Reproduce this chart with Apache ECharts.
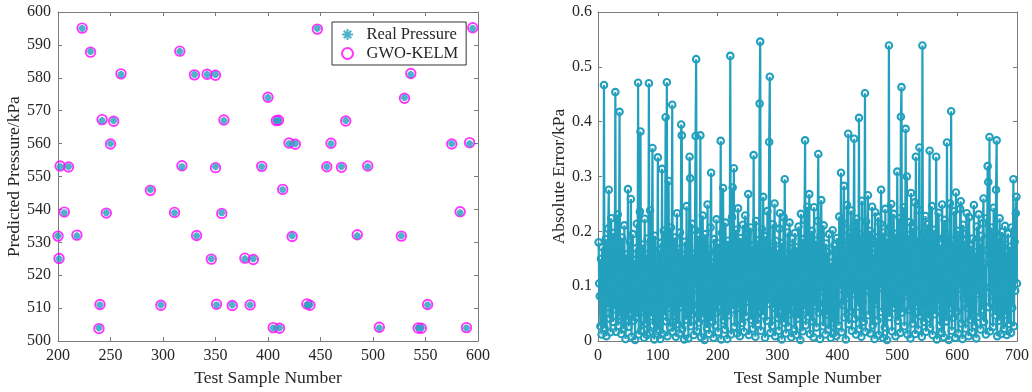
<!DOCTYPE html>
<html>
<head>
<meta charset="utf-8">
<script src="https://cdn.jsdelivr.net/npm/echarts@6/dist/echarts.min.js"></script>
<style>
  html, body { margin: 0; padding: 0; background: #fff; }
  #chart { width: 1032px; height: 392px; }
</style>
</head>
<body>
<div id="chart"></div>
<script>
// left panel: test samples 200-600, real vs predicted pressure (kPa)
const sampleNo = [202, 210, 223, 231, 242, 250, 253, 260, 288, 316, 318, 330, 342, 350, 350, 358, 394,
  447, 595, 536, 530, 400, 408, 410, 474, 420, 426, 460, 575, 592, 456, 470, 495, 414,
  206, 246, 311, 356, 583,
  200, 218, 332, 423, 485, 527,
  201, 346, 378, 386,
  240, 298, 351, 366, 383, 437, 440, 552,
  239, 405, 411, 506, 543, 546, 589];
const realPressure = [553, 553, 595, 588, 567, 560, 567, 581, 546, 588, 553, 581, 581, 581, 553, 567, 553,
  595, 595, 581, 574, 574, 567, 567, 567, 560, 560, 560, 560, 560, 553, 553, 553, 546,
  539, 539, 539, 539, 539,
  532, 532, 532, 532, 532, 532,
  525, 525, 525, 525,
  511, 511, 511, 511, 511, 511, 511, 511,
  504, 504, 504, 504, 504, 504, 504];
const predPressure = [553.2, 552.9, 595.1, 587.8, 567.3, 559.9, 566.8, 581.2, 545.8, 588.1, 553.3, 580.9, 581.1, 580.8, 552.7, 567.2, 553.1,
  594.8, 595.2, 581.3, 573.8, 574.1, 567.0, 567.1, 566.9, 560.2, 559.8, 560.1, 559.9, 560.3, 553.0, 552.8, 553.2, 546.1,
  539.2, 538.9, 539.1, 538.8, 539.3,
  531.9, 532.2, 532.1, 531.8, 532.3, 531.9,
  525.1, 524.9, 525.2, 524.8,
  511.1, 510.9, 511.2, 510.8, 511.0, 511.3, 510.9, 511.1,
  503.8, 504.1, 503.9, 504.2, 504.0, 503.9, 504.1];

// right panel: absolute error per test sample (kPa), samples 1..700
const absError = [
  0.180,0.105,0.082,0.027,0.150,0.012,0.171,0.095,0.031,0.467,0.024,0.118,0.186,0.009,0.143,0.062,0.205,0.276,0.041,0.132,0.016,0.224,0.088,0.153,0.035,
  0.197,0.058,0.121,0.454,0.017,0.164,0.073,0.231,0.028,0.137,0.418,0.046,0.102,0.013,0.189,0.067,0.145,0.022,0.211,0.079,0.004,0.158,0.097,0.039,0.277,
  0.026,0.133,0.181,0.051,0.259,0.008,0.116,0.195,0.037,0.148,0.071,0.002,0.169,0.093,0.214,0.044,0.471,0.012,0.127,0.236,0.382,0.019,0.085,0.176,0.054,
  0.141,0.006,0.223,0.096,0.032,0.158,0.011,0.187,0.069,0.470,0.015,0.238,0.107,0.045,0.174,0.352,0.029,0.129,0.003,0.192,0.076,0.149,0.018,0.104,0.335,
  0.021,0.166,0.088,0.004,0.179,0.052,0.314,0.013,0.135,0.201,0.047,0.122,0.408,0.036,0.472,0.009,0.184,0.292,0.061,0.153,0.025,0.207,0.094,0.431,0.017,
  0.123,0.046,0.189,0.071,0.008,0.145,0.233,0.031,0.112,0.168,0.014,0.198,0.062,0.395,0.375,0.022,0.157,0.096,0.003,0.181,0.118,0.039,0.246,0.074,0.136,
  0.005,0.171,0.336,0.297,0.027,0.126,0.214,0.049,0.159,0.011,0.094,0.203,0.374,0.514,0.018,0.138,0.066,0.192,0.034,0.111,0.375,0.007,0.176,0.081,0.229,
  0.043,0.152,0.002,0.195,0.087,0.132,0.024,0.249,0.058,0.167,0.013,0.118,0.207,0.307,0.036,0.143,0.075,0.006,0.186,0.101,0.029,0.161,0.222,0.052,0.128,
  0.016,0.178,0.064,0.139,0.365,0.003,0.197,0.092,0.279,0.038,0.155,0.021,0.216,0.071,0.124,0.004,0.183,0.047,0.166,0.109,0.520,0.012,0.147,0.226,0.280,
  0.058,0.315,0.026,0.171,0.089,0.203,0.014,0.136,0.242,0.061,0.119,0.009,0.188,0.077,0.154,0.033,0.212,0.098,0.017,0.163,0.229,0.045,0.131,0.072,0.196,
  0.268,0.011,0.149,0.085,0.207,0.039,0.174,0.106,0.023,0.339,0.064,0.141,0.008,0.219,0.093,0.162,0.031,0.184,0.054,0.433,0.546,0.019,0.127,0.204,0.047,
  0.263,0.082,0.155,0.006,0.191,0.112,0.037,0.237,0.068,0.145,0.363,0.482,0.015,0.172,0.099,0.028,0.213,0.061,0.138,0.251,0.009,0.183,0.074,0.121,0.042,
  0.167,0.019,0.205,0.233,0.056,0.142,0.003,0.179,0.087,0.226,0.034,0.295,0.105,0.014,0.158,0.071,0.198,0.026,0.133,0.216,0.049,0.169,0.007,0.114,0.187,
  0.063,0.148,0.022,0.197,0.089,0.011,0.171,0.124,0.041,0.209,0.078,0.154,0.002,0.232,0.096,0.137,0.018,0.186,0.058,0.221,0.366,0.029,0.163,0.108,0.245,
  0.045,0.176,0.268,0.013,0.139,0.081,0.201,0.036,0.157,0.007,0.244,0.117,0.064,0.183,0.025,0.128,0.219,0.341,0.052,0.166,0.004,0.193,0.257,0.091,0.146,
  0.027,0.211,0.069,0.135,0.012,0.178,0.103,0.048,0.162,0.021,0.195,0.077,0.143,0.006,0.118,0.034,0.202,0.087,0.015,0.174,0.059,0.126,0.009,0.188,0.072,
  0.151,0.028,0.227,0.095,0.139,0.307,0.016,0.182,0.066,0.214,0.283,0.043,0.164,0.003,0.129,0.248,0.079,0.378,0.031,0.197,0.112,0.055,0.238,0.019,0.171,
  0.086,0.209,0.369,0.041,0.156,0.012,0.223,0.102,0.175,0.063,0.407,0.022,0.194,0.133,0.008,0.256,0.071,0.184,0.035,0.149,0.452,0.017,0.218,0.093,0.165,
  0.266,0.047,0.138,0.201,0.014,0.177,0.084,0.245,0.029,0.159,0.107,0.004,0.235,0.068,0.189,0.121,0.038,0.226,0.011,0.153,0.097,0.214,0.276,0.053,0.172,
  0.006,0.198,0.134,0.025,0.241,0.079,0.163,0.002,0.187,0.114,0.539,0.044,0.208,0.142,0.250,0.018,0.176,0.089,0.232,0.061,0.151,0.009,0.196,0.125,0.309,
  0.037,0.182,0.073,0.224,0.015,0.409,0.463,0.052,0.168,0.104,0.244,0.027,0.139,0.387,0.083,0.300,0.012,0.193,0.146,0.057,0.217,0.005,0.270,0.118,0.161,
  0.032,0.206,0.091,0.253,0.013,0.336,0.064,0.179,0.116,0.021,0.239,0.353,0.046,0.184,0.128,0.008,0.539,0.071,0.197,0.035,0.154,0.228,0.017,0.169,0.098,
  0.213,0.041,0.137,0.347,0.024,0.172,0.085,0.246,0.011,0.158,0.108,0.203,0.049,0.131,0.336,0.003,0.189,0.067,0.234,0.119,0.028,0.176,0.094,0.015,0.249,
  0.057,0.165,0.007,0.221,0.102,0.143,0.036,0.362,0.078,0.194,0.002,0.147,0.251,0.061,0.419,0.019,0.183,0.124,0.043,0.237,0.088,0.006,0.271,0.139,0.054,
  0.201,0.014,0.168,0.096,0.241,0.255,0.032,0.157,0.004,0.212,0.079,0.183,0.118,0.023,0.196,0.233,0.061,0.145,0.009,0.226,0.105,0.039,0.174,0.131,0.016,
  0.187,0.073,0.248,0.028,0.162,0.114,0.005,0.209,0.086,0.149,0.231,0.044,0.178,0.021,0.127,0.192,0.057,0.215,0.260,0.035,0.141,0.098,0.012,0.224,0.166,
  0.319,0.290,0.062,0.372,0.018,0.155,0.207,0.083,0.131,0.026,0.243,0.109,0.171,0.047,0.276,0.366,0.009,0.188,0.122,0.037,0.224,0.076,0.152,0.013,0.199,
  0.066,0.138,0.022,0.186,0.210,0.048,0.163,0.011,0.127,0.196,0.084,0.031,0.172,0.109,0.015,0.207,0.061,0.144,0.295,0.027,0.181,0.092,0.233,0.263,0.105
];

const leftXTicks = [200, 600, 50];
const leftYTicks = [500, 600, 10];
const rightXTicks = [0, 700, 100];
const rightYTicks = [0, 0.6, 0.1];

const teal = '#22a0bd';
const magenta = '#ff00ff';
const serif = 'Liberation Serif';
const axisCol = '#7a7a7a';
const textCol = '#262626';

// asterisk marker like matlab '*'
const asterisk = 'path://M0,5L10,5M5,0L5,10M1.6,1.6L8.4,8.4M8.4,1.6L1.6,8.4';

function mainAxis(gridIndex, pos, t, name, nameGap) {
  return {
    gridIndex: gridIndex, type: 'value', position: pos,
    min: t[0], max: t[1], interval: t[2],
    name: name, nameLocation: 'middle', nameGap: nameGap,
    nameTextStyle: { fontFamily: serif, fontSize: 17.5, color: textCol },
    axisLine: { show: true, onZero: false, lineStyle: { color: axisCol, width: 1 } },
    axisTick: { show: true, inside: true, length: 4, lineStyle: { color: axisCol } },
    axisLabel: { fontFamily: serif, fontSize: 16, color: textCol, margin: 7 },
    splitLine: { show: false }
  };
}

function boxAxis(gridIndex, pos, t) {
  return {
    gridIndex: gridIndex, type: 'value', position: pos,
    min: t[0], max: t[1], interval: t[2],
    axisLine: { show: true, onZero: false, lineStyle: { color: axisCol, width: 1 } },
    axisTick: { show: true, inside: true, length: 4, lineStyle: { color: axisCol } },
    axisLabel: { show: false },
    splitLine: { show: false }
  };
}

const scatterReal = sampleNo.map((x, i) => [x, realPressure[i]]);
const scatterPred = sampleNo.map((x, i) => [x, predPressure[i]]);
const errLine = absError.map((v, i) => [i + 1, v]);

const chart = echarts.init(document.getElementById('chart'));

const yNameLeft = mainAxis(0, 'left', leftYTicks, 'Predicted Pressure/kPa', 33);
const yNameRight = mainAxis(1, 'left', rightYTicks, 'Absolute Error/kPa', 26);
yNameRight.axisLabel.formatter = v => String(+v.toFixed(1));
yNameRight.axisLabel.margin = 6;

chart.setOption({
  animation: false,
  backgroundColor: '#fff',
  grid: [
    { left: 58, top: 12, width: 420, height: 331 },
    { left: 598, top: 12, width: 421, height: 331 }
  ],
  xAxis: [
    mainAxis(0, 'bottom', leftXTicks, 'Test Sample Number', 24),
    boxAxis(0, 'top', leftXTicks),
    mainAxis(1, 'bottom', rightXTicks, 'Test Sample Number', 24),
    boxAxis(1, 'top', rightXTicks)
  ],
  yAxis: [
    yNameLeft,
    boxAxis(0, 'right', leftYTicks),
    yNameRight,
    boxAxis(1, 'right', rightYTicks)
  ],
  legend: {
    data: ['Real Pressure', 'GWO-KELM'],
    orient: 'vertical',
    left: 332, top: 22,
    padding: [4, 8, 3, 9],
    itemGap: 2,
    itemWidth: 28, itemHeight: 11,
    backgroundColor: '#fff',
    borderColor: '#333', borderWidth: 1, borderRadius: 0,
    textStyle: { fontFamily: serif, fontSize: 16.5, color: textCol }
  },
  series: [
    {
      name: 'Real Pressure', type: 'scatter',
      xAxisIndex: 0, yAxisIndex: 0,
      symbol: asterisk, symbolSize: 7,
      itemStyle: { color: teal, borderColor: teal, borderWidth: 2.2 },
      data: scatterReal, z: 3
    },
    {
      name: 'GWO-KELM', type: 'scatter',
      xAxisIndex: 0, yAxisIndex: 0,
      symbol: 'circle', symbolSize: 9.5,
      itemStyle: { color: 'rgba(0,0,0,0)', borderColor: magenta, borderWidth: 1.9 },
      data: scatterPred, z: 2
    },
    {
      name: 'Absolute Error', type: 'line',
      xAxisIndex: 2, yAxisIndex: 2,
      symbol: 'circle', symbolSize: 6.5,
      showSymbol: true, showAllSymbol: true,
      sampling: null,
      lineStyle: { color: teal, width: 2.2 },
      itemStyle: { color: 'rgba(0,0,0,0)', borderColor: teal, borderWidth: 2.1 },
      data: errLine
    }
  ]
});
</script>
</body>
</html>
